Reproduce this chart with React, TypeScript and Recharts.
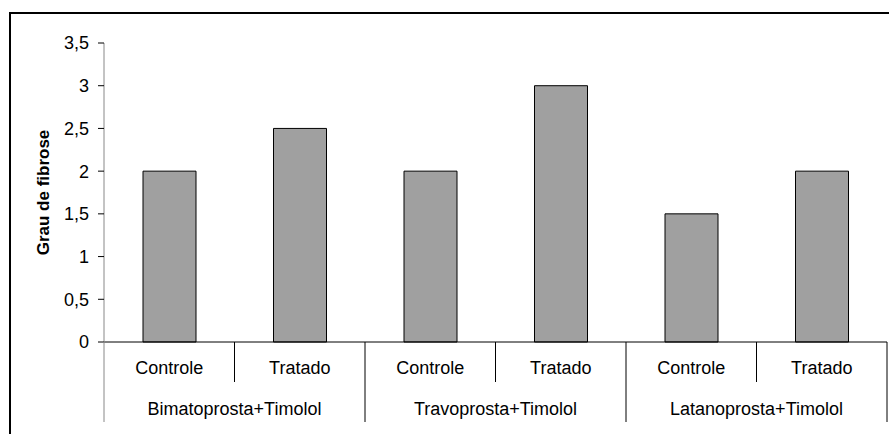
import React from "react";
import { BarChart, Bar, XAxis, YAxis } from "recharts";

const groups = ["Bimatoprosta+Timolol", "Travoprosta+Timolol", "Latanoprosta+Timolol"];
const treatments = ["Controle", "Tratado"];
const fibrose = [2, 2.5, 2, 3, 1.5, 2];
const yTicks = [0, 0.5, 1, 1.5, 2, 2.5, 3, 3.5];

const data = fibrose.map((v, i) => ({
  id: `${groups[Math.floor(i / 2)]}|${treatments[i % 2]}`,
  sub: treatments[i % 2],
  value: v,
}));

const W = 889;
const H = 434;
const margin = { top: 43, right: 2, bottom: 12, left: 20 };
const Y_W = 84;
const BAND = (W - margin.left - Y_W - margin.right) / data.length;
const FONT = "'Liberation Sans', Arial, sans-serif";

const CategoryTick = (props: any) => {
  const { x, y, payload } = props;
  const i = payload.index;
  const half = BAND / 2;
  const left = x - half;
  return (
    <g>
      <text x={x} y={y + 32} textAnchor="middle" fontSize={18} fontFamily={FONT} fill="#000">
        {data[i].sub}
      </text>
      <line
        x1={left}
        x2={left}
        y1={y}
        y2={y + (i % 2 === 0 ? 80 : 40)}
        stroke={i === 0 ? "#888" : "#000"}
      />
      {i % 2 === 1 && (
        <text x={left} y={y + 73} textAnchor="middle" fontSize={18} fontFamily={FONT} fill="#000">
          {groups[Math.floor(i / 2)]}
        </text>
      )}
      {i === data.length - 1 && (
        <line x1={x + half} x2={x + half} y1={y} y2={y + 80} stroke="#000" />
      )}
    </g>
  );
};

const YLabel = (props: any) => {
  const { viewBox } = props;
  const cx = viewBox.x + 23;
  const cy = viewBox.y + viewBox.height / 2;
  return (
    <text
      x={cx}
      y={cy}
      transform={`rotate(-90 ${cx} ${cy})`}
      textAnchor="middle"
      dominantBaseline="central"
      fontSize={17}
      fontWeight="bold"
      fontFamily={FONT}
      fill="#000"
    >
      Grau de fibrose
    </text>
  );
};

export default function App() {
  return (
    <div style={{ position: "absolute", left: 0, top: 0, width: W, height: H, background: "#fff" }}>
      <div
        style={{
          position: "absolute",
          left: 9,
          top: 12,
          width: W,
          height: H,
          borderLeft: "2px solid #000",
          borderTop: "2px solid #000",
        }}
      />
      <div style={{ position: "absolute", left: 0, top: 0 }}>
        <BarChart width={W} height={H} data={data} margin={margin}>
          <XAxis
            dataKey="id"
            interval={0}
            height={80}
            tickLine={false}
            tickSize={0}
            tickMargin={0}
            axisLine={{ stroke: "#000" }}
            tick={<CategoryTick />}
          />
          <YAxis
            width={Y_W}
            domain={[0, 3.5]}
            ticks={yTicks}
            interval={0}
            tickSize={6}
            tickMargin={9}
            axisLine={{ stroke: "#888" }}
            tickLine={{ stroke: "#000" }}
            tick={{ fontSize: 18, fontFamily: FONT, fill: "#000" }}
            tickFormatter={(v: number) => String(v).replace(".", ",")}
            label={<YLabel />}
          />
          <Bar dataKey="value" fill="#a0a0a0" stroke="#000" strokeWidth={1} barSize={53} isAnimationActive={false} />
        </BarChart>
      </div>
    </div>
  );
}
